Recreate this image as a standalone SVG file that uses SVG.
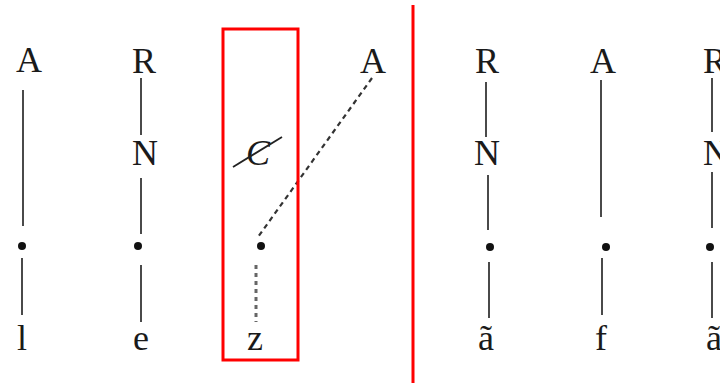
<svg xmlns="http://www.w3.org/2000/svg" width="720" height="383" viewBox="0 0 720 383">
<style>
  text { font-family: "Liberation Serif", "Times New Roman", serif; font-size: 36px; fill: #1a1a1a; text-anchor: middle; }
  .ln { stroke: #4a4a4a; stroke-width: 2; fill: none; }
  .dash { stroke: #333; stroke-width: 2.2; fill: none; stroke-dasharray: 5 4; }
  .dot2 { stroke: #666; stroke-width: 3; fill: none; stroke-dasharray: 4 4; }
  .red { stroke: #ff0000; stroke-width: 3; fill: none; }
  .pt { fill: #111; }
</style>
<rect width="720" height="383" fill="#ffffff"/>
<g id="connectors">
  <line class="ln" x1="23" y1="90" x2="23" y2="226"/>
  <line class="ln" x1="22" y1="258" x2="22" y2="315"/>
  <line class="ln" x1="141" y1="78" x2="141" y2="135"/>
  <line class="ln" x1="141" y1="178" x2="141" y2="234"/>
  <line class="ln" x1="141" y1="265" x2="141" y2="322"/>
  <line class="dash" x1="372" y1="78" x2="258" y2="237"/>
  <line class="dot2" x1="256" y1="265" x2="256" y2="322"/>
  <line class="ln" x1="486" y1="82" x2="486" y2="137"/>
  <line class="ln" x1="488" y1="175" x2="488" y2="230"/>
  <line class="ln" x1="489" y1="262" x2="489" y2="318"/>
  <line class="ln" x1="601" y1="80" x2="601" y2="217"/>
  <line class="ln" x1="602" y1="258" x2="602" y2="315"/>
  <line class="ln" x1="712" y1="78" x2="712" y2="132"/>
  <line class="ln" x1="712" y1="172" x2="712" y2="228"/>
  <line class="ln" x1="712" y1="262" x2="712" y2="318"/>
</g>
<g id="frame">
  <rect class="red" x="223" y="29" width="75" height="331"/>
  <line class="red" x1="413" y1="5" x2="413" y2="383"/>
</g>
<g id="col1">
  <text x="29" y="72">A</text>
  <circle class="pt" cx="22" cy="246" r="4"/>
  <text x="22" y="350">l</text>
</g>
<g id="col2">
  <text x="144" y="73">R</text>
  <text x="145" y="165">N</text>
  <circle class="pt" cx="138" cy="246" r="4"/>
  <text x="141" y="350">e</text>
</g>
<g id="col3">
  <text x="258" y="165" font-style="italic" font-size="38">C</text>
  <line x1="233" y1="167" x2="282" y2="137" stroke="#222" stroke-width="1.8"/>
  <circle class="pt" cx="261" cy="246" r="4"/>
  <text x="255" y="350">z</text>
  <text x="373" y="73">A</text>
</g>
<g id="col4">
  <text x="487" y="73">R</text>
  <text x="487" y="165">N</text>
  <circle class="pt" cx="490" cy="247" r="4"/>
  <text x="486" y="350">ã</text>
</g>
<g id="col5">
  <text x="603" y="73">A</text>
  <circle class="pt" cx="606" cy="247" r="4"/>
  <text x="601" y="350">f</text>
</g>
<g id="col6">
  <text x="715" y="73">R</text>
  <text x="716" y="165">N</text>
  <circle class="pt" cx="710" cy="247" r="4"/>
  <text x="714" y="350">ã</text>
</g>
</svg>
